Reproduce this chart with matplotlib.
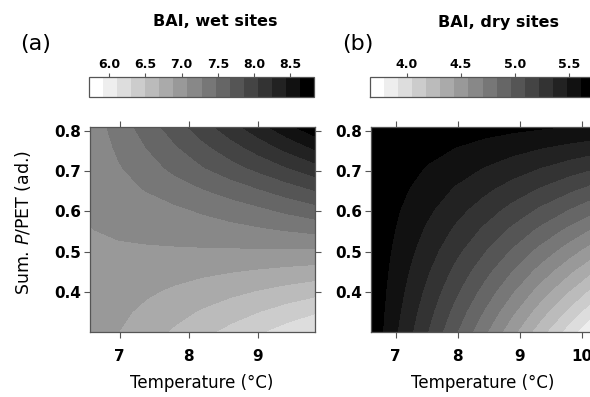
import numpy as np
import matplotlib.pyplot as plt

plt.rcParams['font.family'] = 'DejaVu Sans'

W, H = 590, 397

# fitted BAI surfaces on a temperature x summer P/PET grid
temp_wet = [6.57, 6.98, 7.39, 7.80, 8.20, 8.61, 9.02, 9.42, 9.83]
temp_dry = [6.60, 7.05, 7.51, 7.96, 8.42, 8.87, 9.32, 9.78, 10.23]
ppet = [0.300, 0.351, 0.402, 0.453, 0.504, 0.555, 0.606, 0.657, 0.708, 0.759, 0.810]

# rows follow ppet, columns follow temperature
bai_wet = [
    [7.000, 6.888, 6.775, 6.663, 6.550, 6.438, 6.325, 6.213, 6.100],
    [7.016, 6.930, 6.844, 6.758, 6.672, 6.586, 6.501, 6.415, 6.329],
    [7.031, 6.973, 6.915, 6.857, 6.799, 6.741, 6.683, 6.625, 6.567],
    [7.047, 7.017, 6.988, 6.959, 6.930, 6.901, 6.872, 6.842, 6.813],
    [7.062, 7.063, 7.063, 7.064, 7.065, 7.065, 7.066, 7.066, 7.067],
    [7.078, 7.100, 7.125, 7.152, 7.182, 7.214, 7.250, 7.289, 7.330],
    [7.093, 7.140, 7.190, 7.245, 7.305, 7.370, 7.440, 7.520, 7.601],
    [7.109, 7.200, 7.290, 7.380, 7.470, 7.565, 7.665, 7.772, 7.881],
    [7.124, 7.255, 7.385, 7.516, 7.647, 7.777, 7.908, 8.038, 8.169],
    [7.140, 7.305, 7.471, 7.637, 7.802, 7.968, 8.134, 8.299, 8.465],
    [7.155, 7.357, 7.559, 7.761, 7.963, 8.165, 8.366, 8.568, 8.770],
]
bai_dry = [
    [5.708, 5.463, 5.218, 4.973, 4.728, 4.483, 4.238, 3.993, 3.748],
    [5.710, 5.488, 5.266, 5.043, 4.821, 4.599, 4.377, 4.154, 3.932],
    [5.712, 5.513, 5.313, 5.114, 4.914, 4.715, 4.515, 4.316, 4.116],
    [5.714, 5.537, 5.360, 5.183, 5.007, 4.830, 4.653, 4.476, 4.299],
    [5.716, 5.562, 5.408, 5.254, 5.100, 4.945, 4.791, 4.637, 4.483],
    [5.718, 5.587, 5.455, 5.324, 5.193, 5.061, 4.930, 4.798, 4.667],
    [5.720, 5.611, 5.503, 5.394, 5.286, 5.177, 5.068, 4.960, 4.851],
    [5.722, 5.636, 5.550, 5.464, 5.379, 5.293, 5.207, 5.121, 5.035],
    [5.724, 5.661, 5.597, 5.534, 5.471, 5.408, 5.345, 5.281, 5.218],
    [5.726, 5.686, 5.645, 5.605, 5.564, 5.524, 5.483, 5.443, 5.402],
    [5.728, 5.710, 5.693, 5.675, 5.657, 5.639, 5.621, 5.604, 5.586],
]

wet_range = (5.725, 8.824)
dry_range = (3.661, 5.736)
wet_cticks = [6.0, 6.5, 7.0, 7.5, 8.0, 8.5]
dry_cticks = [4.0, 4.5, 5.0, 5.5]
wet_xticks = [7, 8, 9]
dry_xticks = [7, 8, 9, 10]
yticks = [0.4, 0.5, 0.6, 0.7, 0.8]

greys = [str(g) for g in np.linspace(1, 0, 16)]
EDGE = '#555555'


def px_axes(fig, left, top, right, bottom):
    return fig.add_axes([left / W, 1 - bottom / H,
                         (right - left) / W, (bottom - top) / H])


def bold_ticks(ax):
    for lab in ax.get_xticklabels() + ax.get_yticklabels():
        lab.set_fontweight('bold')


def panel(fig, left, temp, z, zrange, cticks, xticks, title, title_x, letter, letter_x):
    ax = px_axes(fig, left, 127, left + 225, 332)
    cax = px_axes(fig, left - 1, 77, left + 224, 97)

    levels = np.linspace(zrange[0], zrange[1], 17)
    cs = ax.contourf(temp, ppet, np.array(z), levels=levels, colors=greys)
    ax.set_xlim(temp[0], temp[-1])
    ax.set_ylim(0.3, 0.81)
    ax.set_xticks(xticks)
    ax.set_yticks(yticks)
    ax.set_yticklabels(['%.1f' % y for y in yticks])
    ax.tick_params(direction='out', length=4.5, width=0.8, color=EDGE,
                   labelsize=11, top=True, right=True)
    ax.tick_params(axis='x', pad=8)
    ax.tick_params(axis='y', pad=2)
    for s in ax.spines.values():
        s.set_color(EDGE)
        s.set_linewidth(0.9)
    bold_ticks(ax)

    cb = fig.colorbar(cs, cax=cax, orientation='horizontal', ticks=cticks)
    cax.xaxis.set_ticks_position('top')
    cax.set_xticklabels(['%.1f' % c for c in cticks])
    cax.tick_params(length=3, width=0.8, color=EDGE, pad=1, labelsize=9)
    cb.outline.set_edgecolor(EDGE)
    cb.outline.set_linewidth(0.9)
    bold_ticks(cax)

    fig.text(title_x / W, 1 - 22 / H, title, ha='center', va='center',
             fontsize=11.5, fontweight='bold')
    fig.text(letter_x / W, 1 - 44 / H, letter, ha='center', va='center',
             fontsize=16)
    fig.text((left + 112) / W, 1 - 383 / H, 'Temperature (°C)',
             ha='center', va='center', fontsize=12)


fig = plt.figure(figsize=(W / 100, H / 100), dpi=100)

panel(fig, 90, temp_wet, bai_wet, wet_range, wet_cticks, wet_xticks,
      'BAI, wet sites', 215, '(a)', 36)
panel(fig, 371, temp_dry, bai_dry, dry_range, dry_cticks, dry_xticks,
      'BAI, dry sites', 498, '(b)', 358)

fig.text(23 / W, 1 - 222 / H, r'Sum. $\mathit{P}$/PET (ad.)', rotation=90,
         ha='center', va='center', fontsize=12.5)

fig.savefig('out.png', dpi=100)
